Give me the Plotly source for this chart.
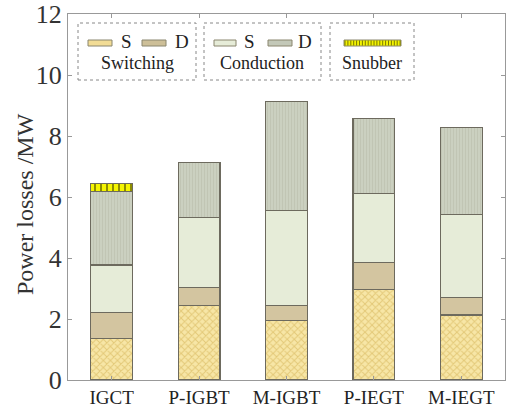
import plotly.graph_objects as go

categories = ["IGCT", "P-IGBT", "M-IGBT", "P-IEGT", "M-IEGT"]
switching_s = [1.35, 2.44, 1.95, 2.98, 2.13]
switching_d = [0.87, 0.60, 0.50, 0.88, 0.57]
conduction_s = [1.55, 2.28, 3.12, 2.25, 2.73]
conduction_d = [2.42, 1.80, 3.57, 2.47, 2.84]
snubber = [0.26, 0, 0, 0, 0]
y_ticks = [0, 2, 4, 6, 8, 10, 12]

FONT = "Liberation Serif"
EDGE = "#6d6a5e"

fig = go.Figure()

def add(vals, name, color, shape="", fg=None, size=4, solidity=0.3):
    pattern = dict(shape=shape)
    if shape:
        pattern.update(fgcolor=fg, bgcolor=color, size=size, solidity=solidity, fillmode="replace")
    fig.add_trace(go.Bar(
        x=categories, y=vals, name=name, width=0.48,
        marker=dict(color=color, line=dict(color=EDGE, width=1.2), pattern=pattern),
        showlegend=False,
    ))

add(switching_s, "Switching S", "#f7e6a6", "x", "#e3c978", 5, 0.35)
add(switching_d, "Switching D", "#d3c5a0")
add(conduction_s, "Conduction S", "#e6ecd8")
add(conduction_d, "Conduction D", "#cbd0c0", "|", "#bfc4b2", 3, 0.3)
add(snubber, "Snubber", "#f4f400", "|", "#6b6b00", 6, 0.25)

# custom legend (paper coordinates)
TOP, BOT = 14, 380

def px2x(px):
    return (px - 68) / 437

def py2y(py):
    return (BOT - py) / (BOT - TOP)

shapes = []
annos = []
boxes = [(78, 196), (204, 321), (330, 414)]
for x0, x1 in boxes:
    shapes.append(dict(type="rect", xref="paper", yref="paper",
                       x0=px2x(x0), x1=px2x(x1), y0=py2y(80), y1=py2y(23),
                       line=dict(color="#888888", width=1, dash="dot"), fillcolor="rgba(0,0,0,0)"))

swatches = [(88, 112, "#f2dc95", "S", 126), (142, 166, "#cdbf98", "D", 182),
            (214, 236, "#e6ecd8", "S", 249), (268, 292, "#c3c8b8", "D", 305),
            (344, 401, "#f4f400", None, None)]
for sx0, sx1, col, lab, lx in swatches:
    shapes.append(dict(type="rect", xref="paper", yref="paper",
                       x0=px2x(sx0), x1=px2x(sx1), y0=py2y(46), y1=py2y(40),
                       line=dict(color="#8a866f", width=1), fillcolor=col))
    if lab:
        annos.append(dict(text=lab, x=px2x(lx), y=py2y(42), xref="paper", yref="paper",
                          xanchor="center", yanchor="middle",
                          showarrow=False, font=dict(family=FONT, size=19, color="#222")))
for i in range(20):
    xx = 345 + i * 2.9
    shapes.append(dict(type="line", xref="paper", yref="paper",
                       x0=px2x(xx), x1=px2x(xx), y0=py2y(45.5), y1=py2y(40.5),
                       line=dict(color="#5a5a00", width=0.8)))

for txt, cx in [("Switching", 137), ("Conduction", 262), ("Snubber", 372)]:
    annos.append(dict(text=txt, x=px2x(cx), y=py2y(63), xref="paper", yref="paper",
                      xanchor="center", yanchor="middle",
                      showarrow=False, font=dict(family=FONT, size=18, color="#222")))

# y-axis title
annos.append(dict(text="Power losses /MW", x=px2x(25), y=py2y(204), xref="paper", yref="paper",
                  xanchor="center", yanchor="middle",
                  textangle=-90, showarrow=False, font=dict(family=FONT, size=24, color="#333")))

fig.update_layout(
    barmode="stack",
    width=512, height=407,
    margin=dict(l=68, r=7, t=TOP, b=407 - BOT),
    paper_bgcolor="white", plot_bgcolor="white",
    font=dict(family=FONT, color="#222"),
    shapes=shapes, annotations=annos,
    xaxis=dict(showline=True, linecolor="#999", mirror="ticks", ticks="inside", ticklen=4,
               tickcolor="#999", automargin=False,
               tickfont=dict(family=FONT, size=19, color="#222")),
    yaxis=dict(range=[0, 12], tickvals=y_ticks, showline=True, linecolor="#999", mirror="ticks",
               ticks="inside", ticklen=4, tickcolor="#999", showgrid=False, zeroline=False,
               automargin=False,
               tickfont=dict(family=FONT, size=26, color="#333")),
)

fig.write_html("out.html", config={"displayModeBar": False},
               post_script="document.body.style.margin='0';")
